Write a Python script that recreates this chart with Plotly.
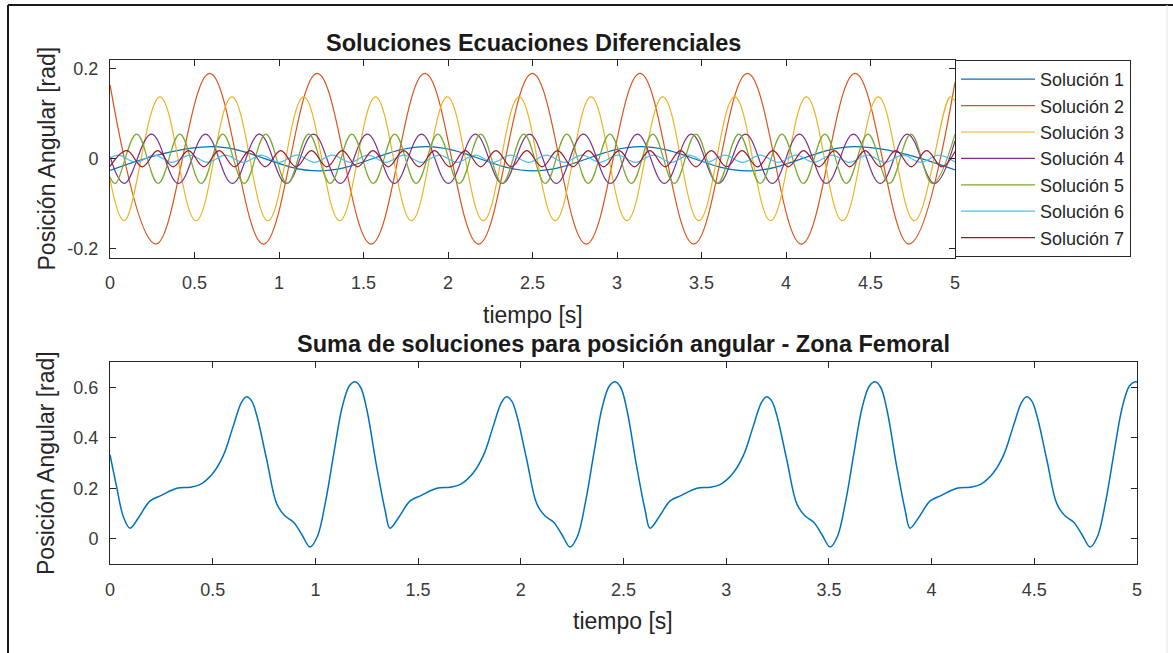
import plotly.graph_objects as go

W, H = 1173, 653

# ---------------- data ----------------
sol1_t = [0.0, 0.60, 1.235, 1.87, 2.505, 3.14, 3.775, 4.41, 5.0]
sol1_y = [-0.026, 0.027, -0.027, 0.027, -0.027, 0.027, -0.027, 0.027, -0.025]

sol2_t = [0.0, 0.272, 0.590, 0.908, 1.226, 1.545, 1.863, 2.181, 2.499, 2.818,
          3.136, 3.454, 3.772, 4.091, 4.409, 4.727, 5.0]
sol2_y = [0.165, -0.19, 0.19, -0.19, 0.19, -0.19, 0.19, -0.19, 0.19, -0.19,
          0.19, -0.19, 0.19, -0.19, 0.19, -0.19, 0.17]

sol3_t = [0.0, 0.084, 0.296, 0.509, 0.721, 0.934, 1.146, 1.359, 1.571, 1.784,
          1.996, 2.209, 2.421, 2.634, 2.846, 3.059, 3.271, 3.484, 3.696, 3.909,
          4.121, 4.334, 4.546, 4.759, 4.971, 5.0]
sol3_y = [-0.045, -0.138, 0.138, -0.138, 0.138, -0.138, 0.138, -0.138, 0.138, -0.138,
          0.138, -0.138, 0.138, -0.138, 0.138, -0.138, 0.138, -0.138, 0.138, -0.138,
          0.138, -0.138, 0.138, -0.138, 0.138, 0.128]

sol4_t = [0.0, 0.085, 0.245, 0.405, 0.565, 0.724, 0.884, 1.044, 1.204, 1.363,
          1.523, 1.683, 1.843, 2.002, 2.162, 2.322, 2.482, 2.641, 2.801, 2.961,
          3.121, 3.280, 3.440, 3.600, 3.760, 3.919, 4.079, 4.239, 4.399, 4.558,
          4.718, 4.878, 5.0]
sol4_y = [0.005, -0.055, 0.055, -0.055, 0.055, -0.055, 0.055, -0.055, 0.055, -0.055,
          0.055, -0.055, 0.055, -0.055, 0.055, -0.055, 0.055, -0.055, 0.055, -0.055,
          0.055, -0.055, 0.055, -0.055, 0.055, -0.055, 0.055, -0.055, 0.055, -0.055,
          0.055, -0.055, 0.040]

sol5_t = [0.0, 0.031, 0.158, 0.285, 0.413, 0.540, 0.667, 0.794, 0.922, 1.049,
          1.176, 1.303, 1.431, 1.558, 1.685, 1.812, 1.940, 2.067, 2.194, 2.321,
          2.449, 2.576, 2.703, 2.830, 2.958, 3.085, 3.212, 3.339, 3.467, 3.594,
          3.721, 3.848, 3.976, 4.103, 4.230, 4.357, 4.485, 4.612, 4.739, 4.866, 5.0]
sol5_y = [-0.040, -0.055, 0.055, -0.055, 0.055, -0.055, 0.055, -0.055, 0.055, -0.055,
          0.055, -0.055, 0.055, -0.055, 0.055, -0.055, 0.055, -0.055, 0.055, -0.055,
          0.055, -0.055, 0.055, -0.055, 0.055, -0.055, 0.055, -0.055, 0.055, -0.055,
          0.055, -0.055, 0.055, -0.055, 0.055, -0.055, 0.055, -0.055, 0.055, -0.055, 0.055]

sol6_t = [0.0, 0.050, 0.156, 0.261, 0.367, 0.472, 0.578, 0.683, 0.789, 0.894,
          1.000, 1.105, 1.211, 1.316, 1.422, 1.527, 1.633, 1.738, 1.844, 1.949,
          2.055, 2.160, 2.266, 2.371, 2.477, 2.582, 2.688, 2.793, 2.899, 3.004,
          3.110, 3.215, 3.321, 3.426, 3.532, 3.637, 3.743, 3.848, 3.954, 4.059,
          4.165, 4.270, 4.376, 4.481, 4.587, 4.692, 4.798, 4.903, 5.0]
sol6_y = [0.001, 0.008, -0.008, 0.008, -0.008, 0.008, -0.008, 0.008, -0.008, 0.008,
          -0.008, 0.008, -0.008, 0.008, -0.008, 0.008, -0.008, 0.008, -0.008, 0.008,
          -0.008, 0.008, -0.008, 0.008, -0.008, 0.008, -0.008, 0.008, -0.008, 0.008,
          -0.008, 0.008, -0.008, 0.008, -0.008, 0.008, -0.008, 0.008, -0.008, 0.008,
          -0.008, 0.008, -0.008, 0.008, -0.008, 0.008, -0.008, 0.008, -0.007]

sol7_t = [0.0, 0.100, 0.191, 0.282, 0.373, 0.464, 0.555, 0.646, 0.737, 0.828,
          0.919, 1.010, 1.101, 1.192, 1.283, 1.374, 1.465, 1.556, 1.647, 1.738,
          1.829, 1.920, 2.011, 2.102, 2.193, 2.284, 2.375, 2.466, 2.557, 2.648,
          2.739, 2.830, 2.921, 3.012, 3.103, 3.194, 3.285, 3.376, 3.467, 3.558,
          3.649, 3.740, 3.831, 3.922, 4.013, 4.104, 4.195, 4.286, 4.377, 4.468,
          4.559, 4.650, 4.741, 4.832, 4.923, 5.0]
sol7_y = [-0.017, 0.018, -0.018, 0.018, -0.018, 0.018, -0.018, 0.018, -0.018, 0.018,
          -0.018, 0.018, -0.018, 0.018, -0.018, 0.018, -0.018, 0.018, -0.018, 0.018,
          -0.018, 0.018, -0.018, 0.018, -0.018, 0.018, -0.018, 0.018, -0.018, 0.018,
          -0.018, 0.018, -0.018, 0.018, -0.018, 0.018, -0.018, 0.018, -0.018, 0.018,
          -0.018, 0.018, -0.018, 0.018, -0.018, 0.018, -0.018, 0.018, -0.018, 0.018,
          -0.018, 0.018, -0.018, 0.018, -0.018, 0.016]

sum_t = [0.000, 0.032, 0.065, 0.097, 0.140, 0.195, 0.250, 0.325, 0.390, 0.440,
         0.500, 0.552, 0.600, 0.640, 0.665, 0.690, 0.714, 0.763, 0.811, 0.850,
         0.893, 0.933, 0.974, 1.010, 1.050, 1.090, 1.130, 1.165, 1.193, 1.220,
         1.250, 1.298, 1.340,
         1.363, 1.406, 1.461, 1.516, 1.591, 1.656, 1.706, 1.766, 1.818, 1.866,
         1.906, 1.931, 1.956, 1.980, 2.029, 2.077, 2.116, 2.159, 2.199, 2.240,
         2.276, 2.316, 2.356, 2.396, 2.431, 2.459, 2.486, 2.516, 2.564, 2.606,
         2.629, 2.672, 2.727, 2.782, 2.857, 2.922, 2.972, 3.032, 3.084, 3.132,
         3.172, 3.197, 3.222, 3.246, 3.295, 3.343, 3.382, 3.425, 3.465, 3.506,
         3.542, 3.582, 3.622, 3.662, 3.697, 3.725, 3.752, 3.782, 3.830, 3.872,
         3.895, 3.938, 3.993, 4.048, 4.123, 4.188, 4.238, 4.298, 4.350, 4.398,
         4.438, 4.463, 4.488, 4.512, 4.561, 4.609, 4.648, 4.691, 4.731, 4.772,
         4.808, 4.848, 4.888, 4.928, 4.963, 4.991, 5.000]
sum_y = [0.333, 0.207, 0.087, 0.042, 0.085, 0.150, 0.172, 0.200, 0.204, 0.215,
         0.258, 0.330, 0.446, 0.540, 0.562, 0.545, 0.490, 0.313, 0.140, 0.092,
         0.066, 0.018, -0.033, 0.010, 0.150, 0.340, 0.520, 0.605, 0.622, 0.600,
         0.513, 0.287, 0.110,
         0.042, 0.085, 0.150, 0.172, 0.200, 0.204, 0.215, 0.258, 0.330, 0.446,
         0.540, 0.562, 0.545, 0.490, 0.313, 0.140, 0.092, 0.066, 0.018, -0.033,
         0.010, 0.150, 0.340, 0.520, 0.605, 0.622, 0.600, 0.513, 0.287, 0.110,
         0.042, 0.085, 0.150, 0.172, 0.200, 0.204, 0.215, 0.258, 0.330, 0.446,
         0.540, 0.562, 0.545, 0.490, 0.313, 0.140, 0.092, 0.066, 0.018, -0.033,
         0.010, 0.150, 0.340, 0.520, 0.605, 0.622, 0.600, 0.513, 0.287, 0.110,
         0.042, 0.085, 0.150, 0.172, 0.200, 0.204, 0.215, 0.258, 0.330, 0.446,
         0.540, 0.562, 0.545, 0.490, 0.313, 0.140, 0.092, 0.066, 0.018, -0.033,
         0.010, 0.150, 0.340, 0.520, 0.605, 0.622, 0.620]

names = ["Solución 1", "Solución 2", "Solución 3", "Solución 4",
         "Solución 5", "Solución 6", "Solución 7"]
colors = ["#0072BD", "#D95319", "#EDB120", "#7E2F8E", "#77AC30", "#4DBEEE", "#A2142F"]

x_ticks = [0, 0.5, 1, 1.5, 2, 2.5, 3, 3.5, 4, 4.5, 5]
x_ticktext = ["0", "0.5", "1", "1.5", "2", "2.5", "3", "3.5", "4", "4.5", "5"]
top_yticks = [-0.2, 0, 0.2]
top_yticktext = ["-0.2", "0", "0.2"]
bot_yticks = [0, 0.2, 0.4, 0.6]
bot_yticktext = ["0", "0.2", "0.4", "0.6"]

title_top = "Soluciones Ecuaciones Diferenciales"
title_bot = "Suma de soluciones para posición angular - Zona Femoral"
xlabel = "tiempo [s]"
ylabel = "Posición Angular [rad]"

# ---------------- figure ----------------
FONT = "Liberation Sans, Arial, Helvetica, sans-serif"
AX = "#262626"

def px(x):
    return x / W

def py(y):
    return 1 - y / H

fig = go.Figure()
series = [(sol1_t, sol1_y), (sol2_t, sol2_y), (sol3_t, sol3_y), (sol4_t, sol4_y),
          (sol5_t, sol5_y), (sol6_t, sol6_y), (sol7_t, sol7_y)]
for (t, y), n, c in zip(series, names, colors):
    fig.add_trace(go.Scatter(x=t, y=y, name=n, mode="lines",
                             line=dict(color=c, width=1.2, shape="spline", smoothing=1.1),
                             xaxis="x", yaxis="y"))

fig.add_trace(go.Scatter(x=sum_t, y=sum_y, mode="lines", showlegend=False,
                         line=dict(color="#0072BD", width=1.5, shape="spline", smoothing=1.0),
                         xaxis="x2", yaxis="y2"))

axis_common = dict(showgrid=False, zeroline=False, showline=True, linecolor=AX,
                   linewidth=1, mirror="ticks", ticks="inside", ticklen=6,
                   tickcolor=AX, tickwidth=1, automargin=False,
                   tickfont=dict(family=FONT, size=18, color="#3a3a3a"))

fig.update_layout(
    width=W, height=H,
    margin=dict(l=0, r=0, t=0, b=0),
    paper_bgcolor="white", plot_bgcolor="white",
    xaxis=dict(domain=[px(110), px(955)], range=[0, 5], anchor="y",
               tickvals=x_ticks, ticktext=x_ticktext, ticklabelstandoff=9, **axis_common),
    yaxis=dict(domain=[py(257.5), py(60)], range=[-0.22, 0.22], anchor="x",
               tickvals=top_yticks, ticktext=top_yticktext, ticklabelstandoff=7, **axis_common),
    xaxis2=dict(domain=[px(110), px(1137)], range=[0, 5], anchor="y2",
                tickvals=x_ticks, ticktext=x_ticktext, ticklabelstandoff=9, **axis_common),
    yaxis2=dict(domain=[py(564), py(362)], range=[-0.1, 0.7], anchor="x2",
                tickvals=bot_yticks, ticktext=bot_yticktext, ticklabelstandoff=7, **axis_common),
    showlegend=True,
    legend=dict(x=px(955), y=py(60), xanchor="left", yanchor="top",
                bgcolor="white", bordercolor=AX, borderwidth=1,
                font=dict(family=FONT, size=18, color="#262626"),
                itemwidth=74, tracegroupgap=0),
)

ann_font = dict(family=FONT, size=23, color="#262626")
title_font = dict(family=FONT, size=23.5, color="#1a1a1a")
annotations = [
    dict(text="<b>" + title_top + "</b>", x=px(533), y=py(43), font=title_font),
    dict(text="<b>" + title_bot + "</b>", x=px(623), y=py(344), font=title_font),
    dict(text=xlabel, x=px(533), y=py(315), font=ann_font),
    dict(text=xlabel, x=px(623), y=py(621), font=ann_font),
    dict(text=ylabel, x=px(46), y=py(158.5), textangle=-90, font=ann_font),
    dict(text=ylabel, x=px(46), y=py(463), textangle=-90, font=ann_font),
]
for a in annotations:
    a.update(xref="paper", yref="paper", showarrow=False,
             xanchor="center", yanchor="middle")
fig.update_layout(annotations=annotations)

# outer figure frame (left and top edges dark, right edge faint)
fig.update_layout(shapes=[
    dict(type="line", xref="paper", yref="paper", x0=px(8), x1=px(8), y0=0, y1=py(5),
         line=dict(color="#1a1a1a", width=2)),
    dict(type="line", xref="paper", yref="paper", x0=px(8), x1=1, y0=py(5), y1=py(5),
         line=dict(color="#1a1a1a", width=2)),
    dict(type="line", xref="paper", yref="paper", x0=px(1167), x1=px(1167), y0=0, y1=py(5),
         line=dict(color="#e4e4e4", width=1)),
])

# remove the default page margin so the figure sits at the window's top-left corner
fig.write_html("out.html",
               config={"displayModeBar": False},
               post_script="document.body.style.margin='0';document.body.style.overflow='hidden';")
